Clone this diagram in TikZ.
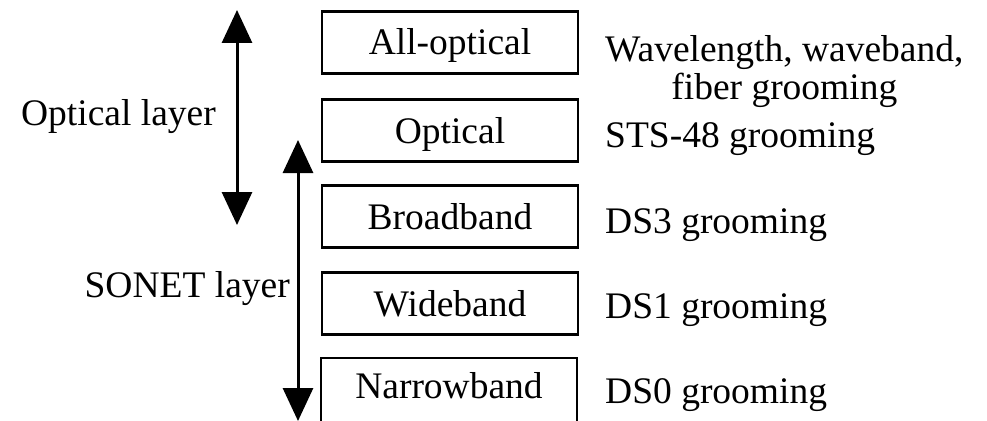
\documentclass[tikz,border=0pt]{standalone}
\usepackage{fontspec}
\setmainfont{Liberation Serif}
\usetikzlibrary{arrows.meta}
\begin{document}
\begin{tikzpicture}[x=1pt,y=-1pt,
  txt/.style={font=\fontsize{37.5}{37}\selectfont, inner sep=0pt},
  layerbox/.style={draw, line width=2.6pt, minimum width=256pt, minimum height=62pt,
    inner sep=0pt, text height=30pt, text depth=5pt,
    font=\fontsize{37.5}{37.5}\selectfont},
  rangearrow/.style={line width=3pt, {Triangle[length=33pt,width=30pt]}-{Triangle[length=33pt,width=30pt]}}]
  \useasboundingbox (0,0) rectangle (987,420);

  % stack of grooming levels (the lowest one runs past the lower edge)
  \node[layerbox] (allopt) at (450,42.5) {All-optical};
  \node[layerbox] (opt)    at (450,130.5) {Optical};
  \node[layerbox] (broad)  at (450,216.5) {Broadband};
  \node[layerbox] (wide)   at (450,303.5) {Wideband};
  \node[layerbox, minimum height=66pt, text height=25pt, text depth=10pt]
    (narrow) at (449,391) {Narrowband};

  % grooming granularity of each level
  \node[txt, anchor=base west, align=center] (g1) at (605,99)
    {Wavelength, waveband,\\ fiber grooming};
  \node[txt, anchor=base west] (g2) at (605,147) {STS-48 grooming};
  \node[txt, anchor=base west] (g3) at (605,233) {DS3 grooming};
  \node[txt, anchor=base west] (g4) at (605,318) {DS1 grooming};
  \node[txt, anchor=base west] (g5) at (605,403) {DS0 grooming};

  % extent of the two layers
  \coordinate (optTop) at (237,10);
  \coordinate (optBot) at (237,225);
  \coordinate (sonTop) at (298,140);
  \coordinate (sonBot) at (298,421);
  \draw[rangearrow] (optTop) -- (optBot);
  \draw[rangearrow] (sonTop) -- (sonBot);

  \node[txt, anchor=base east] (optlbl) at (216,125) {Optical layer};
  \node[txt, anchor=base east] (sonlbl) at (290,297) {SONET layer};
\end{tikzpicture}
\end{document}
